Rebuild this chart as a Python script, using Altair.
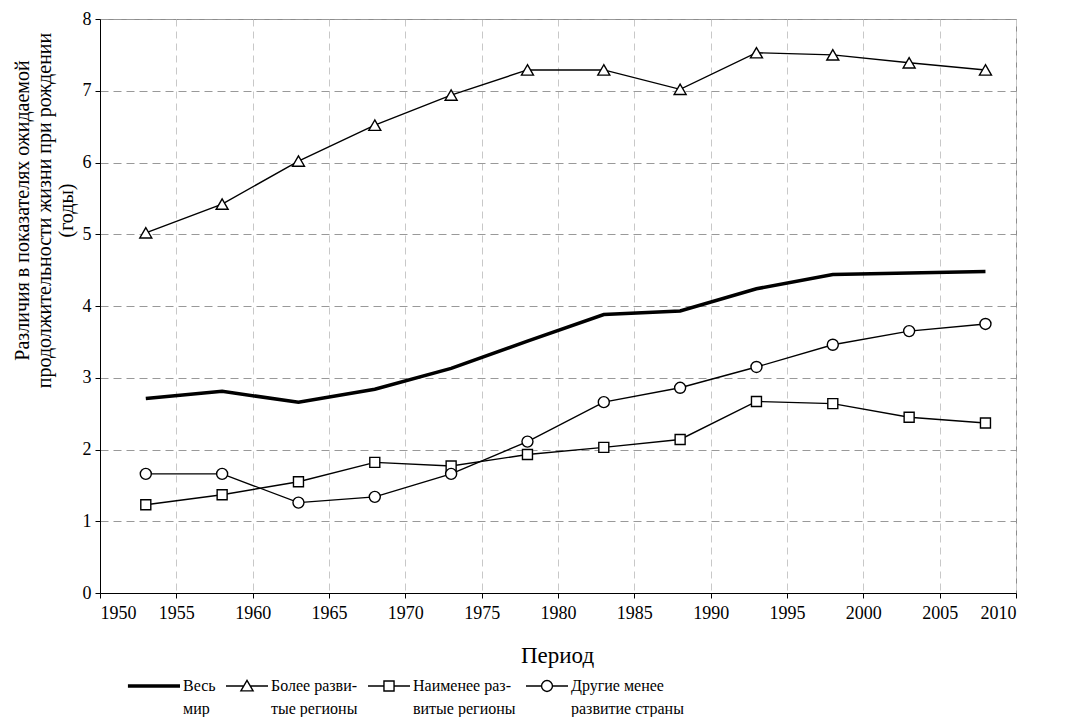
import altair as alt
import pandas as pd

years = [1953, 1958, 1963, 1968, 1973, 1978, 1983, 1988, 1993, 1998, 2003, 2008]
world = [2.71, 2.81, 2.66, 2.84, 3.13, 3.51, 3.88, 3.93, 4.24, 4.44, 4.46, 4.48]
more_dev = [5.02, 5.42, 6.02, 6.52, 6.94, 7.29, 7.29, 7.02, 7.53, 7.50, 7.39, 7.29]
least_dev = [1.23, 1.37, 1.55, 1.82, 1.77, 1.93, 2.03, 2.14, 2.67, 2.64, 2.45, 2.37]
other_less = [1.66, 1.66, 1.26, 1.34, 1.66, 2.11, 2.66, 2.86, 3.15, 3.46, 3.65, 3.75]

names = ["Весь|мир", "Более разви-|тые регионы", "Наименее раз-|витые регионы", "Другие менее|развитие страны"]
x_ticks = list(range(1950, 2011, 5))
y_ticks = list(range(0, 9))
y_title = ["Различия в показателях ожидаемой", "продолжительности жизни при рождении", "(годы)"]
x_title = "Период"

rows = []
for name, vals in zip(names, [world, more_dev, least_dev, other_less]):
    for yr, v in zip(years, vals):
        rows.append({"year": yr, "value": v, "series": name})
df = pd.DataFrame(rows)

FONT = "Liberation Serif"

# legend symbols: line segment with marker (unit = 21 px)
def P(x, y):
    return f"{x:.3f},{y:.3f}"

w = 0.055
world_path = (f"M{P(-1.48, -w)}L{P(1, -w)}M{P(-1.48, 0)}L{P(1, 0)}M{P(-1.48, w)}L{P(1, w)}")
tri_path = (f"M{P(-1, 0)}L{P(-0.15, 0)}M{P(0.15, 0)}L{P(1, 0)}"
            f"M{P(0, -0.27)}L{P(0.29, 0.23)}L{P(-0.29, 0.23)}Z")
sq_path = (f"M{P(-1, 0)}L{P(-0.24, 0)}M{P(0.24, 0)}L{P(1, 0)}"
           f"M{P(-0.24, -0.24)}L{P(0.24, -0.24)}L{P(0.24, 0.24)}L{P(-0.24, 0.24)}Z")
r = 0.26
circ_path = (f"M{P(-1, 0)}L{P(-r, 0)}M{P(r, 0)}L{P(1, 0)}"
             f"M{P(r, 0)}A{r},{r} 0 1,1 {P(-r, 0)}A{r},{r} 0 1,1 {P(r, 0)}Z")
paths = [world_path, tri_path, sq_path, circ_path]

x = alt.X("year:Q", scale=alt.Scale(domain=[1950, 2010], nice=False, zero=False),
          axis=alt.Axis(values=x_ticks, format="d", title=x_title,
                        gridColor="#c8c8c8", gridDash=[7, 5], gridWidth=1,
                        labelPadding=6, titleX=457, titleY=69, titleBaseline="alphabetic",
                        titleFontSize=23))
y = alt.Y("value:Q", scale=alt.Scale(domain=[0, 8], nice=False),
          axis=alt.Axis(values=y_ticks, title=y_title, gridColor="#999999",
                        gridDash=[8, 5], gridWidth=1, labelPadding=4,
                        titleX=-68, titleY=191, titleLineHeight=22, titleFontSize=20))

base = alt.Chart(df)

lines = base.mark_line(color="black").encode(
    x=x, y=y, detail="series:N",
    strokeWidth=alt.condition(alt.datum.series == names[0], alt.value(3.5), alt.value(1.4)),
)

pt_style = dict(filled=True, fill="white", stroke="black", strokeWidth=1.4, opacity=1)
tri = base.transform_filter(alt.datum.series == names[1]).mark_point(shape="triangle-up", size=144, **pt_style).encode(x=x, y=y)
sq = base.transform_filter(alt.datum.series == names[2]).mark_point(shape="square", size=100, **pt_style).encode(x=x, y=y)
circ = base.transform_filter(alt.datum.series == names[3]).mark_point(shape="circle", size=121, **pt_style).encode(x=x, y=y)

# legend-only layer: its points are moved below the y domain and clipped away
legend_layer = base.transform_calculate(value="-100").mark_point(
    filled=False, color="black", strokeWidth=1.4, clip=True
).encode(
    x=x, y=y,
    shape=alt.Shape("series:N", scale=alt.Scale(domain=names, range=paths),
                    legend=alt.Legend(title=None, orient="none", direction="horizontal",
                                      legendX=37, legendY=645,
                                      labelExpr="split(datum.label, '|')",
                                      symbolSize=1764, symbolStrokeColor="black",
                                      symbolFillColor="white", symbolStrokeWidth=1.4,
                                      symbolOpacity=1, labelOffset=2, columnPadding=7,
                                      labelLimit=400, labelFont=FONT, labelFontSize=16,
                                      labelColor="black", labelAlign="left", padding=0)),
)

chart = alt.layer(lines, tri, sq, circ, legend_layer).properties(
    width=916, height=574,
    padding={"left": 92, "top": 11, "right": 57, "bottom": 124},
    autosize=alt.AutoSizeParams(type="none"),
).configure(
    style={"guide-label": {"lineHeight": 23}},
).configure_view(stroke="#8c8c8c", strokeWidth=1).configure_axis(
    labelFont=FONT, labelFontSize=18, labelColor="black",
    titleFont=FONT, titleFontWeight="normal", titleColor="black",
    domainColor="black", domainWidth=1, tickColor="black", tickSize=5, tickWidth=1,
).configure_legend(labelFont=FONT)

chart.save("out.html", embed_options={"renderer": "svg", "actions": False})
